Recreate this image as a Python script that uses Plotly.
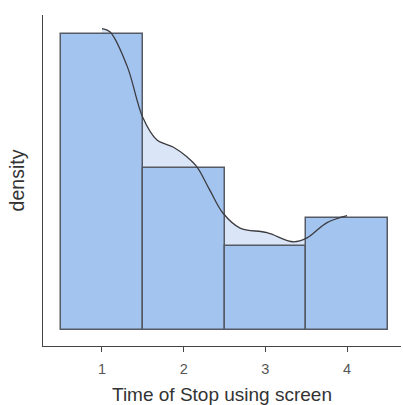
import plotly.graph_objects as go

# Histogram data (bins centred on 1..4, width 1)
bin_centers = [1, 2, 3, 4]
counts = [53, 29, 15, 20]
total = sum(counts)
density = [c / total for c in counts]

# Density curve
kde_x = [1.00, 1.10, 1.31, 1.50, 1.67, 1.87, 2.04, 2.16, 2.32, 2.48, 2.69, 3.02, 3.34, 3.51, 3.75, 4.00]
kde_y = [0.461, 0.456, 0.403, 0.325, 0.291, 0.280, 0.265, 0.250, 0.214, 0.179, 0.156, 0.149, 0.135, 0.141, 0.164, 0.175]

tick_vals = [1, 2, 3, 4]
tick_text = ["1", "2", "3", "4"]

XR = [0.278, 4.66]
YR = [-0.0245, 0.482]

fig = go.Figure()

# density fill (bottom layer)
fig.add_trace(go.Scatter(
    x=kde_x, y=kde_y, mode="lines", line=dict(width=0, shape="spline"),
    fill="tozeroy", fillcolor="rgb(218,229,247)", hoverinfo="skip",
    showlegend=False, xaxis="x", yaxis="y"))

# bars (middle layer)
fig.add_trace(go.Bar(
    x=bin_centers, y=density, width=1,
    marker=dict(color="rgb(164,196,240)", line=dict(color="rgb(85,90,100)", width=1.5)),
    showlegend=False, xaxis="x2", yaxis="y2"))

# density line (top layer)
fig.add_trace(go.Scatter(
    x=kde_x, y=kde_y, mode="lines", line=dict(color="rgb(60,60,64)", width=1.3, shape="spline"),
    showlegend=False, xaxis="x3", yaxis="y3"))

font = "Liberation Sans, Arial, sans-serif"
fig.update_layout(
    width=403, height=405,
    margin=dict(l=43, r=2, t=15, b=59),
    paper_bgcolor="white", plot_bgcolor="white",
    font=dict(family=font, color="#333"),
    bargap=0,
    xaxis=dict(range=XR, tickvals=tick_vals, ticktext=tick_text, showgrid=False, zeroline=False,
               showline=True, linecolor="#444", linewidth=1.2, ticks="outside", ticklen=5,
               tickcolor="#444", tickwidth=1.2, ticklabelstandoff=4,
               tickfont=dict(size=14.5, color="#555", family=font),
               title=dict(text="Time of Stop using screen", font=dict(size=19, color="#333", family=font), standoff=13)),
    yaxis=dict(range=YR, showticklabels=False, ticks="", showgrid=False, zeroline=False,
               showline=True, linecolor="#444", linewidth=1.2,
               title=dict(text="density", font=dict(size=19.5, color="#333", family=font), standoff=12)),
    xaxis2=dict(range=XR, overlaying="x", visible=False),
    yaxis2=dict(range=YR, overlaying="y", visible=False),
    xaxis3=dict(range=XR, overlaying="x", visible=False),
    yaxis3=dict(range=YR, overlaying="y", visible=False),
)

fig.write_html("out.html")
